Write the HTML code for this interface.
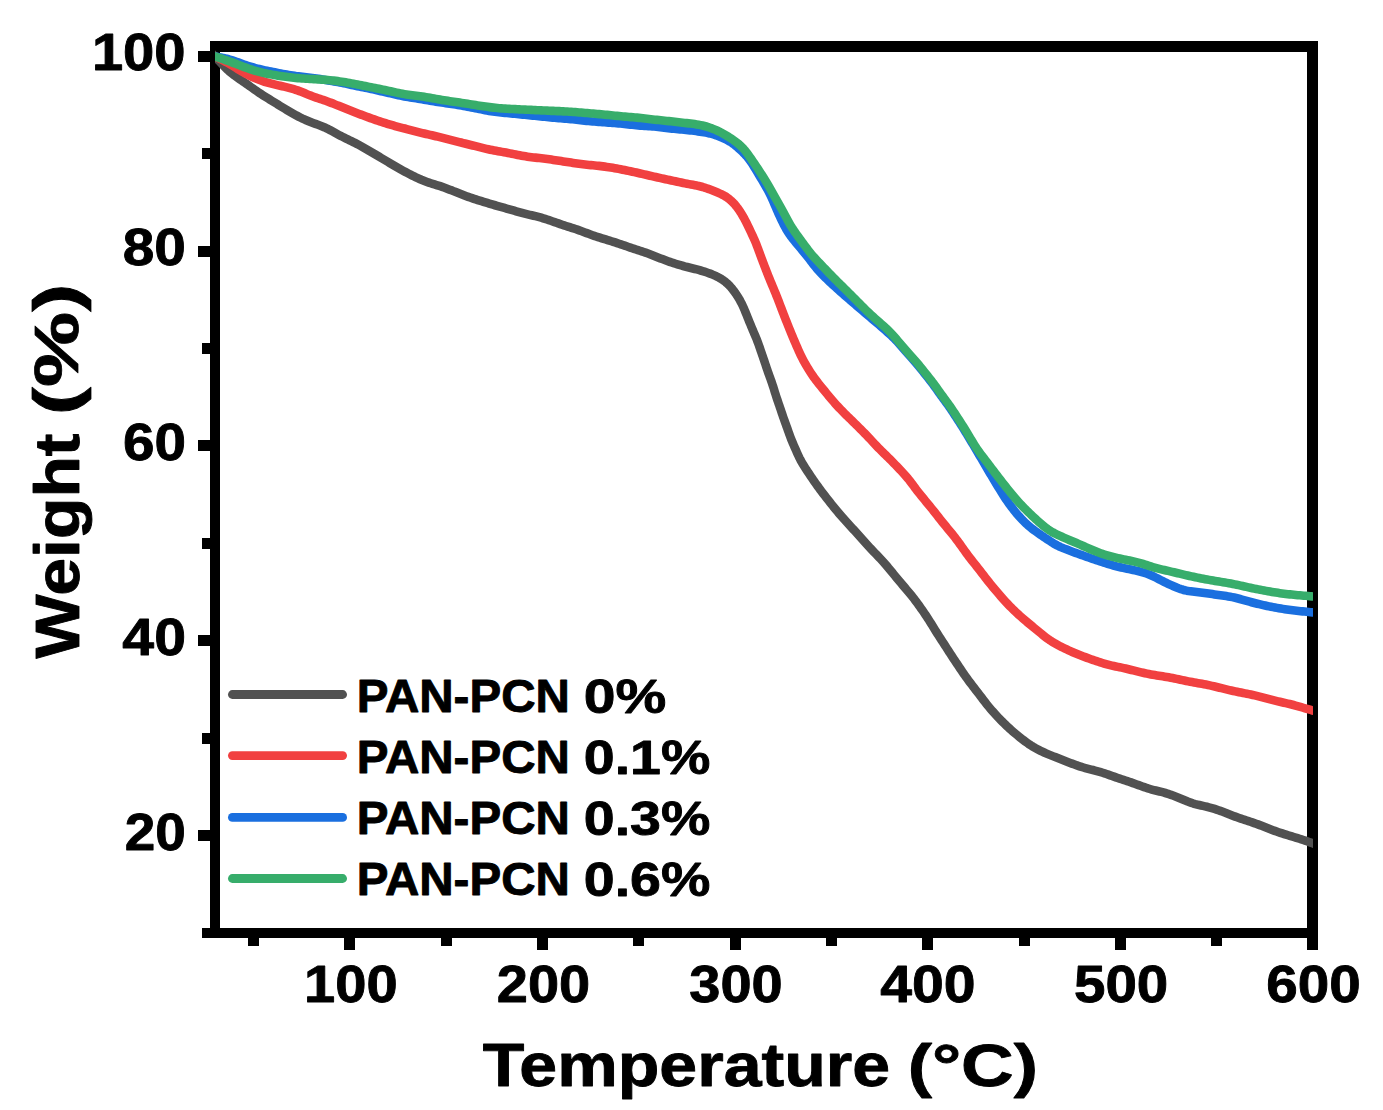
<!DOCTYPE html>
<html><head><meta charset="utf-8"><style>
html,body{margin:0;padding:0;background:#fff;}
svg{display:block;}
</style></head><body>
<svg width="1383" height="1110" viewBox="0 0 1383 1110">
<rect width="1383" height="1110" fill="#fff"/>
<rect x="210" y="41" width="10" height="897" fill="#000"/>
<rect x="210" y="41" width="1108" height="11" fill="#000"/>
<rect x="1307" y="41" width="11" height="909" fill="#000"/>
<rect x="202" y="928" width="1116" height="10" fill="#000"/>
<rect x="198" y="51" width="12" height="11" fill="#000"/>
<rect x="198" y="246" width="12" height="11" fill="#000"/>
<rect x="198" y="440" width="12" height="11" fill="#000"/>
<rect x="198" y="635" width="12" height="11" fill="#000"/>
<rect x="198" y="830" width="12" height="11" fill="#000"/>
<rect x="202" y="148" width="8" height="11" fill="#000"/>
<rect x="202" y="343" width="8" height="11" fill="#000"/>
<rect x="202" y="538" width="8" height="11" fill="#000"/>
<rect x="202" y="733" width="8" height="11" fill="#000"/>
<rect x="344" y="938" width="11" height="12" fill="#000"/>
<rect x="537" y="938" width="11" height="12" fill="#000"/>
<rect x="730" y="938" width="11" height="12" fill="#000"/>
<rect x="922" y="938" width="11" height="12" fill="#000"/>
<rect x="1115" y="938" width="11" height="12" fill="#000"/>
<rect x="248" y="938" width="11" height="8" fill="#000"/>
<rect x="441" y="938" width="11" height="8" fill="#000"/>
<rect x="633" y="938" width="11" height="8" fill="#000"/>
<rect x="826" y="938" width="11" height="8" fill="#000"/>
<rect x="1019" y="938" width="11" height="8" fill="#000"/>
<rect x="1211" y="938" width="11" height="8" fill="#000"/>
<text transform="matrix(0.56158 0 0 0.52299 91.897 70.043)" x="0" y="0" font-size="100" font-family="'Liberation Sans', sans-serif" font-weight="bold" fill="#000" stroke="#000" stroke-width="1.660" stroke-linejoin="round">100</text>
<text transform="matrix(0.56792 0 0 0.52306 122.765 265.046)" x="0" y="0" font-size="100" font-family="'Liberation Sans', sans-serif" font-weight="bold" fill="#000" stroke="#000" stroke-width="1.650" stroke-linejoin="round">80</text>
<text transform="matrix(0.56664 0 0 0.52305 122.901 460.045)" x="0" y="0" font-size="100" font-family="'Liberation Sans', sans-serif" font-weight="bold" fill="#000" stroke="#000" stroke-width="1.652" stroke-linejoin="round">60</text>
<text transform="matrix(0.57204 0 0 0.52728 122.324 654.541)" x="0" y="0" font-size="100" font-family="'Liberation Sans', sans-serif" font-weight="bold" fill="#000" stroke="#000" stroke-width="1.637" stroke-linejoin="round">40</text>
<text transform="matrix(0.54883 0 0 0.52285 124.814 850.038)" x="0" y="0" font-size="100" font-family="'Liberation Sans', sans-serif" font-weight="bold" fill="#000" stroke="#000" stroke-width="1.680" stroke-linejoin="round">20</text>
<text transform="matrix(0.56095 0 0 0.52298 304.100 1002.043)" x="0" y="0" font-size="100" font-family="'Liberation Sans', sans-serif" font-weight="bold" fill="#000" stroke="#000" stroke-width="1.661" stroke-linejoin="round">100</text>
<text transform="matrix(0.55981 0 0 0.52297 496.786 1002.043)" x="0" y="0" font-size="100" font-family="'Liberation Sans', sans-serif" font-weight="bold" fill="#000" stroke="#000" stroke-width="1.662" stroke-linejoin="round">200</text>
<text transform="matrix(0.55944 0 0 0.52297 689.346 1002.042)" x="0" y="0" font-size="100" font-family="'Liberation Sans', sans-serif" font-weight="bold" fill="#000" stroke="#000" stroke-width="1.663" stroke-linejoin="round">300</text>
<text transform="matrix(0.57180 0 0 0.52310 880.126 1002.047)" x="0" y="0" font-size="100" font-family="'Liberation Sans', sans-serif" font-weight="bold" fill="#000" stroke="#000" stroke-width="1.644" stroke-linejoin="round">400</text>
<text transform="matrix(0.56541 0 0 0.52303 1073.971 1002.045)" x="0" y="0" font-size="100" font-family="'Liberation Sans', sans-serif" font-weight="bold" fill="#000" stroke="#000" stroke-width="1.654" stroke-linejoin="round">500</text>
<text transform="matrix(0.56644 0 0 0.52304 1266.202 1002.045)" x="0" y="0" font-size="100" font-family="'Liberation Sans', sans-serif" font-weight="bold" fill="#000" stroke="#000" stroke-width="1.652" stroke-linejoin="round">600</text>
<text transform="matrix(0.68105 0 0 0.60173 482.797 1085.942)" x="0" y="0" font-size="100" font-family="'Liberation Sans', sans-serif" font-weight="bold" fill="#000" stroke="#000" stroke-width="1.403" stroke-linejoin="round">Temperature</text>
<text transform="matrix(0.72906 0 0 0.59776 907.649 1086.042)" x="0" y="0" font-size="100" font-family="'Liberation Sans', sans-serif" font-weight="bold" fill="#000" stroke="#000" stroke-width="1.357" stroke-linejoin="round">(°C)</text>
<text transform="matrix(0 -0.67900 0.63648 0 79.099 658.535)" x="0" y="0" font-size="100" font-family="'Liberation Sans', sans-serif" font-weight="bold" fill="#000" stroke="#000" stroke-width="1.368" stroke-linejoin="round">Weight</text>
<text transform="matrix(0 -0.84568 0.63012 0 78.383 415.213)" x="0" y="0" font-size="100" font-family="'Liberation Sans', sans-serif" font-weight="bold" fill="#000" stroke="#000" stroke-width="1.220" stroke-linejoin="round">(%)</text>
<defs><clipPath id="pc"><rect x="215" y="0" width="1098" height="1110"/></clipPath></defs>
<g clip-path="url(#pc)">
<path d="M209.49,50.70L210.86,52.15L212.24,53.61L213.60,55.07L214.97,56.53L216.33,57.99L217.69,59.46L219.05,60.93L220.41,62.40L221.77,63.86L223.15,65.31L224.54,66.74L225.95,68.16L227.38,69.54L228.85,70.90L230.34,72.21L231.88,73.48L233.44,74.72L235.04,75.91L236.66,77.08L238.30,78.22L239.95,79.35L241.60,80.47L243.25,81.60L244.89,82.74L246.53,83.89L248.16,85.05L249.78,86.21L251.41,87.38L253.04,88.54L254.67,89.69L256.31,90.84L257.96,91.97L259.61,93.09L261.28,94.19L262.96,95.27L264.65,96.35L266.34,97.41L268.04,98.47L269.74,99.52L271.45,100.56L273.15,101.61L274.85,102.66L276.56,103.71L278.26,104.76L279.96,105.80L281.67,106.85L283.38,107.89L285.09,108.92L286.81,109.95L288.53,110.97L290.25,111.98L291.98,112.98L293.72,113.96L295.47,114.94L297.23,115.89L299.00,116.82L300.78,117.72L302.57,118.60L304.38,119.44L306.21,120.26L308.04,121.04L309.89,121.80L311.75,122.52L313.62,123.22L315.50,123.90L317.38,124.57L319.25,125.24L321.12,125.94L322.96,126.68L324.79,127.47L326.59,128.32L328.37,129.21L330.13,130.14L331.88,131.10L333.63,132.07L335.37,133.05L337.12,134.01L338.88,134.95L340.65,135.87L342.44,136.77L344.23,137.65L346.03,138.53L347.83,139.40L349.63,140.27L351.42,141.15L353.21,142.04L354.99,142.95L356.77,143.86L358.54,144.80L360.30,145.75L362.05,146.71L363.79,147.69L365.53,148.68L367.26,149.68L368.98,150.69L370.71,151.71L372.43,152.73L374.15,153.75L375.87,154.77L377.59,155.79L379.31,156.81L381.03,157.83L382.75,158.85L384.47,159.87L386.19,160.89L387.91,161.91L389.63,162.93L391.35,163.94L393.08,164.96L394.80,165.97L396.53,166.98L398.26,167.97L400.00,168.97L401.74,169.95L403.49,170.92L405.24,171.88L407.00,172.83L408.77,173.76L410.55,174.68L412.33,175.58L414.13,176.47L415.93,177.33L417.74,178.17L419.57,178.98L421.40,179.78L423.25,180.54L425.10,181.27L426.97,181.98L428.85,182.65L430.74,183.28L432.64,183.88L434.55,184.46L436.46,185.03L438.37,185.60L440.27,186.20L442.16,186.83L444.04,187.49L445.92,188.18L447.78,188.90L449.64,189.63L451.50,190.37L453.35,191.12L455.21,191.86L457.07,192.61L458.92,193.34L460.79,194.07L462.65,194.79L464.52,195.50L466.40,196.20L468.28,196.88L470.16,197.54L472.05,198.19L473.95,198.82L475.85,199.44L477.76,200.04L479.67,200.64L481.58,201.23L483.49,201.82L485.40,202.40L487.32,202.98L489.23,203.56L491.15,204.13L493.07,204.69L494.99,205.25L496.91,205.81L498.83,206.36L500.76,206.90L502.68,207.44L504.61,207.98L506.53,208.52L508.46,209.06L510.38,209.60L512.31,210.15L514.23,210.71L516.15,211.27L518.07,211.82L519.99,212.37L521.91,212.91L523.84,213.42L525.78,213.91L527.72,214.37L529.66,214.82L531.61,215.26L533.56,215.71L535.50,216.17L537.43,216.66L539.36,217.19L541.28,217.74L543.19,218.32L545.10,218.91L547.00,219.53L548.90,220.16L550.79,220.80L552.68,221.45L554.57,222.10L556.46,222.76L558.35,223.42L560.24,224.07L562.13,224.72L564.03,225.35L565.93,225.97L567.83,226.58L569.74,227.19L571.64,227.80L573.54,228.41L575.44,229.03L577.34,229.68L579.22,230.34L581.10,231.02L582.98,231.71L584.85,232.42L586.72,233.13L588.59,233.83L590.46,234.52L592.35,235.19L594.24,235.84L596.13,236.47L598.03,237.09L599.94,237.68L601.85,238.27L603.76,238.86L605.68,239.44L607.59,240.03L609.50,240.63L611.41,241.23L613.31,241.84L615.21,242.45L617.11,243.08L619.01,243.71L620.90,244.35L622.80,245.00L624.69,245.65L626.58,246.31L628.46,246.96L630.35,247.61L632.25,248.26L634.14,248.89L636.04,249.51L637.95,250.12L639.85,250.74L641.75,251.36L643.64,251.99L645.53,252.65L647.41,253.32L649.28,254.02L651.15,254.73L653.01,255.46L654.87,256.19L656.74,256.92L658.60,257.65L660.46,258.38L662.33,259.10L664.20,259.81L666.07,260.51L667.95,261.19L669.83,261.87L671.72,262.52L673.62,263.15L675.52,263.76L677.43,264.35L679.34,264.92L681.27,265.48L683.19,266.01L685.12,266.53L687.06,267.03L689.00,267.52L690.94,268.01L692.88,268.48L694.82,268.96L696.76,269.45L698.69,269.96L700.61,270.50L702.53,271.06L704.44,271.65L706.33,272.28L708.22,272.94L710.09,273.63L711.95,274.36L713.79,275.13L715.61,275.94L717.40,276.80L719.16,277.73L720.88,278.72L722.55,279.78L724.16,280.92L725.72,282.14L727.21,283.44L728.65,284.81L730.02,286.24L731.33,287.73L732.59,289.26L733.81,290.84L734.99,292.45L736.12,294.09L737.22,295.76L738.28,297.45L739.30,299.16L740.27,300.90L741.20,302.67L742.08,304.46L742.93,306.26L743.75,308.09L744.54,309.92L745.31,311.77L746.06,313.62L746.81,315.47L747.56,317.32L748.31,319.18L749.05,321.04L749.80,322.89L750.56,324.74L751.32,326.59L752.09,328.44L752.86,330.28L753.65,332.12L754.44,333.96L755.22,335.80L755.99,337.64L756.74,339.49L757.46,341.35L758.17,343.22L758.85,345.10L759.51,346.99L760.16,348.88L760.80,350.77L761.45,352.66L762.10,354.55L762.75,356.44L763.40,358.33L764.04,360.22L764.68,362.12L765.31,364.01L765.94,365.91L766.58,367.81L767.22,369.70L767.87,371.59L768.54,373.47L769.22,375.35L769.91,377.23L770.59,379.11L771.26,380.99L771.91,382.88L772.55,384.77L773.16,386.67L773.76,388.58L774.35,390.49L774.94,392.40L775.54,394.31L776.15,396.21L776.77,398.11L777.41,400.00L778.06,401.90L778.71,403.79L779.36,405.68L780.00,407.57L780.64,409.46L781.28,411.36L781.92,413.25L782.56,415.15L783.21,417.04L783.87,418.92L784.54,420.80L785.23,422.68L785.91,424.56L786.59,426.44L787.27,428.32L787.94,430.21L788.61,432.09L789.28,433.97L789.96,435.85L790.66,437.72L791.38,439.58L792.13,441.43L792.90,443.27L793.70,445.11L794.50,446.94L795.30,448.77L796.11,450.60L796.91,452.42L797.72,454.25L798.56,456.06L799.42,457.85L800.33,459.63L801.28,461.38L802.27,463.10L803.30,464.81L804.36,466.51L805.43,468.19L806.52,469.87L807.62,471.54L808.72,473.21L809.83,474.87L810.95,476.53L812.07,478.19L813.20,479.84L814.34,481.48L815.49,483.11L816.65,484.74L817.82,486.37L819.00,487.98L820.18,489.59L821.38,491.20L822.58,492.79L823.79,494.39L825.01,495.97L826.24,497.55L827.47,499.13L828.70,500.70L829.94,502.27L831.18,503.84L832.43,505.40L833.68,506.96L834.94,508.52L836.20,510.06L837.48,511.60L838.78,513.13L840.08,514.64L841.40,516.14L842.73,517.63L844.07,519.12L845.41,520.60L846.76,522.08L848.10,523.56L849.44,525.05L850.78,526.53L852.12,528.02L853.46,529.50L854.80,530.99L856.14,532.47L857.47,533.96L858.81,535.45L860.15,536.94L861.48,538.43L862.82,539.91L864.16,541.40L865.50,542.89L866.84,544.37L868.19,545.85L869.54,547.32L870.90,548.78L872.28,550.23L873.66,551.68L875.04,553.12L876.43,554.56L877.81,556.01L879.19,557.45L880.56,558.91L881.92,560.38L883.27,561.86L884.59,563.35L885.91,564.86L887.20,566.38L888.49,567.91L889.76,569.45L891.03,571.00L892.30,572.55L893.56,574.10L894.82,575.65L896.09,577.19L897.36,578.74L898.64,580.27L899.92,581.81L901.21,583.34L902.51,584.86L903.80,586.39L905.10,587.91L906.39,589.43L907.69,590.96L908.97,592.49L910.25,594.03L911.51,595.58L912.75,597.14L913.98,598.72L915.19,600.31L916.39,601.91L917.58,603.52L918.75,605.14L919.92,606.77L921.07,608.40L922.22,610.04L923.35,611.68L924.48,613.33L925.60,614.99L926.70,616.66L927.79,618.33L928.88,620.02L929.95,621.70L931.01,623.40L932.06,625.10L933.11,626.80L934.16,628.50L935.21,630.20L936.27,631.90L937.34,633.59L938.41,635.28L939.49,636.96L940.58,638.64L941.67,640.32L942.76,641.99L943.85,643.67L944.93,645.35L946.02,647.03L947.10,648.71L948.19,650.39L949.27,652.07L950.36,653.75L951.45,655.43L952.55,657.10L953.65,658.77L954.75,660.43L955.86,662.10L956.98,663.76L958.09,665.42L959.20,667.08L960.32,668.74L961.43,670.40L962.56,672.06L963.69,673.70L964.83,675.34L965.99,676.97L967.16,678.60L968.34,680.21L969.53,681.81L970.74,683.41L971.95,685.00L973.16,686.59L974.38,688.17L975.61,689.76L976.83,691.34L978.05,692.93L979.26,694.51L980.48,696.10L981.69,697.70L982.90,699.29L984.11,700.87L985.34,702.45L986.57,704.03L987.82,705.59L989.09,707.14L990.37,708.67L991.66,710.19L992.98,711.70L994.31,713.19L995.65,714.67L997.01,716.14L998.38,717.59L999.77,719.03L1001.16,720.47L1002.57,721.89L1003.99,723.29L1005.42,724.69L1006.86,726.07L1008.32,727.44L1009.79,728.79L1011.28,730.13L1012.79,731.44L1014.31,732.74L1015.84,734.02L1017.38,735.29L1018.94,736.55L1020.50,737.80L1022.07,739.04L1023.65,740.26L1025.24,741.47L1026.84,742.65L1028.47,743.81L1030.13,744.92L1031.80,746.00L1033.51,747.03L1035.24,748.02L1036.99,748.97L1038.77,749.89L1040.55,750.78L1042.36,751.65L1044.17,752.48L1046.00,753.30L1047.83,754.09L1049.68,754.86L1051.53,755.62L1053.38,756.37L1055.24,757.11L1057.10,757.85L1058.96,758.58L1060.82,759.30L1062.69,760.03L1064.55,760.75L1066.42,761.47L1068.28,762.19L1070.15,762.91L1072.02,763.62L1073.89,764.32L1075.77,765.00L1077.65,765.67L1079.55,766.30L1081.45,766.91L1083.36,767.49L1085.28,768.03L1087.21,768.55L1089.15,769.06L1091.08,769.55L1093.02,770.04L1094.96,770.54L1096.89,771.06L1098.81,771.60L1100.72,772.17L1102.63,772.77L1104.53,773.39L1106.43,774.02L1108.32,774.68L1110.20,775.34L1112.09,776.00L1113.98,776.66L1115.87,777.32L1117.76,777.97L1119.65,778.61L1121.55,779.24L1123.45,779.88L1125.34,780.51L1127.24,781.14L1129.14,781.77L1131.03,782.42L1132.92,783.07L1134.80,783.74L1136.68,784.42L1138.56,785.11L1140.44,785.80L1142.32,786.48L1144.20,787.16L1146.09,787.80L1147.98,788.42L1149.89,789.00L1151.81,789.54L1153.74,790.05L1155.68,790.53L1157.62,791.00L1159.56,791.46L1161.50,791.95L1163.43,792.46L1165.35,793.00L1167.26,793.58L1169.16,794.20L1171.04,794.86L1172.92,795.54L1174.79,796.25L1176.65,796.98L1178.50,797.73L1180.35,798.49L1182.20,799.26L1184.04,800.03L1185.89,800.79L1187.74,801.54L1189.60,802.24L1191.48,802.91L1193.38,803.52L1195.29,804.08L1197.22,804.58L1199.15,805.05L1201.10,805.49L1203.05,805.92L1205.00,806.36L1206.94,806.81L1208.88,807.30L1210.81,807.82L1212.72,808.37L1214.63,808.96L1216.53,809.58L1218.43,810.22L1220.31,810.88L1222.19,811.57L1224.06,812.27L1225.93,812.99L1227.79,813.72L1229.65,814.45L1231.51,815.18L1233.38,815.90L1235.25,816.60L1237.12,817.29L1239.00,817.97L1240.89,818.62L1242.79,819.26L1244.68,819.89L1246.58,820.52L1248.48,821.15L1250.38,821.78L1252.28,822.41L1254.17,823.06L1256.05,823.73L1257.93,824.41L1259.80,825.11L1261.67,825.82L1263.53,826.55L1265.39,827.29L1267.25,828.03L1269.11,828.76L1270.98,829.48L1272.84,830.19L1274.72,830.88L1276.60,831.55L1278.49,832.20L1280.39,832.83L1282.29,833.45L1284.20,834.06L1286.11,834.65L1288.02,835.25L1289.93,835.83L1291.84,836.42L1293.75,837.00L1295.67,837.58L1297.58,838.17L1299.49,838.76L1301.39,839.37L1303.29,839.98L1305.19,840.62L1307.07,841.28L1308.94,841.96L1310.78,842.65L1312.61,843.35L1314.40,844.06L1316.16,844.76L1317.88,845.45L1319.58,846.13L1320.43,846.47" fill="none" stroke="#515151" stroke-width="8.6" stroke-linejoin="round" stroke-linecap="butt"/>
<path d="M207.84,52.92L209.64,53.81L211.43,54.70L213.22,55.59L215.01,56.47L216.81,57.36L218.60,58.24L220.39,59.13L222.18,60.03L223.96,60.93L225.73,61.86L227.49,62.81L229.23,63.78L230.96,64.79L232.67,65.81L234.37,66.86L236.06,67.93L237.75,68.99L239.45,70.05L241.15,71.10L242.87,72.12L244.60,73.11L246.35,74.06L248.12,74.99L249.91,75.88L251.71,76.74L253.53,77.56L255.37,78.35L257.21,79.11L259.08,79.83L260.95,80.52L262.84,81.17L264.74,81.79L266.65,82.37L268.57,82.92L270.49,83.45L272.43,83.95L274.37,84.43L276.31,84.89L278.26,85.34L280.21,85.79L282.16,86.23L284.11,86.68L286.06,87.14L288.00,87.62L289.93,88.12L291.86,88.64L293.78,89.20L295.68,89.79L297.58,90.41L299.45,91.08L301.31,91.79L303.16,92.54L304.99,93.31L306.83,94.09L308.66,94.86L310.51,95.60L312.37,96.31L314.25,96.98L316.14,97.61L318.03,98.23L319.93,98.85L321.83,99.47L323.73,100.11L325.61,100.77L327.49,101.45L329.36,102.16L331.22,102.88L333.08,103.62L334.94,104.37L336.79,105.12L338.64,105.86L340.50,106.61L342.36,107.35L344.22,108.09L346.08,108.83L347.94,109.56L349.80,110.29L351.66,111.02L353.53,111.74L355.39,112.47L357.26,113.19L359.12,113.90L360.99,114.62L362.86,115.32L364.73,116.03L366.61,116.72L368.49,117.41L370.37,118.08L372.25,118.75L374.14,119.41L376.03,120.06L377.93,120.71L379.82,121.34L381.72,121.97L383.63,122.58L385.53,123.18L387.44,123.78L389.35,124.36L391.27,124.93L393.19,125.48L395.12,126.02L397.05,126.54L398.98,127.05L400.92,127.55L402.85,128.05L404.79,128.54L406.72,129.05L408.66,129.56L410.59,130.07L412.52,130.59L414.45,131.10L416.39,131.61L418.32,132.11L420.26,132.59L422.21,133.06L424.15,133.52L426.10,133.97L428.05,134.41L430.00,134.86L431.95,135.30L433.90,135.75L435.85,136.21L437.79,136.67L439.74,137.14L441.68,137.62L443.62,138.10L445.56,138.59L447.50,139.08L449.44,139.57L451.37,140.07L453.31,140.56L455.25,141.06L457.19,141.56L459.12,142.05L461.06,142.54L463.00,143.04L464.94,143.52L466.88,144.01L468.82,144.50L470.76,144.98L472.70,145.46L474.64,145.95L476.58,146.43L478.52,146.92L480.46,147.40L482.40,147.88L484.35,148.36L486.29,148.82L488.24,149.26L490.19,149.68L492.15,150.08L494.11,150.45L496.08,150.81L498.05,151.16L500.01,151.51L501.98,151.86L503.95,152.23L505.91,152.60L507.87,152.98L509.84,153.37L511.80,153.76L513.76,154.15L515.72,154.53L517.68,154.92L519.65,155.30L521.61,155.66L523.58,156.01L525.55,156.34L527.53,156.64L529.51,156.93L531.49,157.18L533.47,157.42L535.46,157.64L537.45,157.85L539.43,158.06L541.42,158.28L543.41,158.51L545.39,158.76L547.37,159.03L549.35,159.31L551.33,159.60L553.31,159.90L555.28,160.20L557.26,160.50L559.24,160.81L561.21,161.11L563.19,161.42L565.17,161.72L567.15,162.02L569.12,162.32L571.10,162.62L573.08,162.92L575.06,163.21L577.04,163.50L579.01,163.78L581.00,164.05L582.98,164.30L584.96,164.54L586.95,164.75L588.94,164.95L590.93,165.14L592.92,165.32L594.91,165.50L596.90,165.69L598.89,165.89L600.87,166.12L602.86,166.36L604.84,166.61L606.82,166.89L608.80,167.18L610.77,167.49L612.75,167.82L614.72,168.16L616.68,168.52L618.65,168.89L620.61,169.27L622.57,169.66L624.53,170.05L626.49,170.45L628.45,170.86L630.41,171.28L632.36,171.70L634.32,172.12L636.27,172.55L638.22,172.99L640.17,173.44L642.12,173.89L644.07,174.34L646.01,174.79L647.96,175.25L649.91,175.70L651.86,176.16L653.81,176.60L655.76,177.05L657.71,177.48L659.66,177.92L661.61,178.35L663.57,178.78L665.52,179.21L667.48,179.63L669.43,180.05L671.39,180.47L673.34,180.89L675.30,181.31L677.25,181.73L679.21,182.15L681.16,182.57L683.12,182.98L685.08,183.38L687.04,183.77L689.00,184.14L690.97,184.49L692.93,184.85L694.89,185.21L696.85,185.59L698.80,186.02L700.73,186.49L702.65,187.01L704.56,187.59L706.45,188.22L708.33,188.89L710.20,189.59L712.06,190.31L713.92,191.05L715.77,191.80L717.61,192.55L719.44,193.34L721.25,194.16L723.02,195.04L724.74,195.99L726.42,197.03L728.03,198.16L729.58,199.38L731.07,200.68L732.50,202.05L733.88,203.48L735.20,204.96L736.46,206.50L737.67,208.08L738.83,209.70L739.94,211.35L741.01,213.03L742.05,214.73L743.06,216.46L744.04,218.20L744.99,219.95L745.92,221.72L746.82,223.51L747.70,225.30L748.56,227.10L749.42,228.91L750.27,230.72L751.12,232.53L751.97,234.34L752.82,236.15L753.65,237.96L754.47,239.78L755.26,241.62L756.01,243.46L756.75,245.32L757.46,247.19L758.15,249.06L758.84,250.94L759.53,252.82L760.22,254.69L760.91,256.57L761.61,258.44L762.32,260.32L763.02,262.19L763.74,264.05L764.45,265.92L765.17,267.79L765.89,269.66L766.61,271.52L767.34,273.38L768.07,275.24L768.81,277.10L769.56,278.95L770.32,280.80L771.09,282.65L771.86,284.49L772.64,286.34L773.41,288.18L774.18,290.03L774.94,291.88L775.69,293.73L776.43,295.59L777.17,297.44L777.90,299.31L778.62,301.17L779.34,303.04L780.05,304.91L780.76,306.78L781.47,308.65L782.18,310.51L782.90,312.38L783.63,314.24L784.35,316.11L785.08,317.97L785.81,319.83L786.55,321.69L787.28,323.55L788.02,325.41L788.76,327.27L789.51,329.12L790.26,330.98L791.02,332.83L791.78,334.68L792.55,336.52L793.33,338.36L794.11,340.20L794.90,342.04L795.69,343.88L796.48,345.71L797.28,347.55L798.08,349.38L798.89,351.20L799.72,353.02L800.58,354.82L801.46,356.62L802.36,358.40L803.29,360.17L804.24,361.93L805.21,363.68L806.20,365.41L807.22,367.13L808.25,368.84L809.31,370.54L810.39,372.22L811.49,373.88L812.62,375.54L813.76,377.17L814.93,378.79L816.12,380.40L817.34,381.98L818.57,383.55L819.82,385.11L821.08,386.66L822.35,388.21L823.62,389.76L824.88,391.31L826.15,392.86L827.41,394.40L828.69,395.95L829.97,397.48L831.26,399.01L832.56,400.53L833.87,402.03L835.20,403.53L836.53,405.02L837.88,406.49L839.24,407.96L840.62,409.41L842.01,410.85L843.41,412.27L844.82,413.69L846.24,415.10L847.67,416.49L849.10,417.89L850.54,419.28L851.97,420.68L853.40,422.08L854.83,423.48L856.25,424.88L857.67,426.29L859.09,427.70L860.51,429.11L861.92,430.53L863.32,431.95L864.72,433.38L866.11,434.82L867.50,436.26L868.87,437.71L870.24,439.17L871.61,440.63L872.97,442.10L874.33,443.56L875.69,445.02L877.06,446.48L878.45,447.92L879.85,449.34L881.26,450.76L882.69,452.16L884.12,453.56L885.55,454.95L886.98,456.35L888.41,457.75L889.83,459.16L891.24,460.57L892.64,462.00L894.04,463.43L895.43,464.87L896.81,466.31L898.19,467.76L899.57,469.21L900.94,470.66L902.30,472.12L903.66,473.60L904.99,475.08L906.31,476.59L907.60,478.11L908.86,479.66L910.10,481.22L911.31,482.81L912.50,484.41L913.69,486.01L914.87,487.62L916.06,489.22L917.27,490.80L918.50,492.37L919.75,493.93L921.01,495.48L922.27,497.03L923.54,498.58L924.80,500.13L926.07,501.67L927.33,503.22L928.60,504.77L929.87,506.31L931.14,507.86L932.40,509.41L933.65,510.96L934.90,512.53L936.14,514.10L937.37,515.68L938.59,517.25L939.83,518.83L941.06,520.40L942.31,521.96L943.57,523.52L944.83,525.07L946.10,526.61L947.38,528.15L948.65,529.69L949.93,531.23L951.20,532.78L952.46,534.33L953.71,535.89L954.94,537.46L956.16,539.04L957.37,540.64L958.56,542.25L959.73,543.87L960.90,545.49L962.05,547.12L963.21,548.75L964.37,550.38L965.53,552.01L966.71,553.62L967.90,555.23L969.10,556.83L970.32,558.41L971.56,559.98L972.80,561.55L974.04,563.12L975.29,564.68L976.53,566.25L977.77,567.82L979.00,569.40L980.22,570.98L981.44,572.56L982.66,574.15L983.88,575.73L985.11,577.31L986.34,578.89L987.58,580.46L988.82,582.02L990.08,583.58L991.34,585.13L992.61,586.67L993.88,588.21L995.17,589.75L996.46,591.28L997.75,592.80L999.05,594.32L1000.36,595.83L1001.68,597.34L1003.00,598.83L1004.34,600.32L1005.69,601.80L1007.05,603.26L1008.42,604.72L1009.81,606.16L1011.21,607.58L1012.63,608.99L1014.06,610.38L1015.50,611.77L1016.96,613.13L1018.43,614.49L1019.92,615.83L1021.41,617.16L1022.92,618.47L1024.43,619.78L1025.95,621.08L1027.48,622.36L1029.02,623.65L1030.56,624.92L1032.10,626.19L1033.65,627.46L1035.20,628.72L1036.75,629.99L1038.29,631.26L1039.84,632.52L1041.39,633.79L1042.94,635.05L1044.50,636.29L1046.08,637.52L1047.68,638.71L1049.30,639.86L1050.96,640.97L1052.64,642.04L1054.35,643.07L1056.08,644.06L1057.83,645.02L1059.60,645.95L1061.38,646.86L1063.17,647.76L1064.96,648.63L1066.77,649.49L1068.58,650.33L1070.41,651.15L1072.24,651.95L1074.07,652.74L1075.92,653.51L1077.77,654.27L1079.63,655.01L1081.49,655.74L1083.36,656.45L1085.23,657.15L1087.11,657.84L1088.99,658.52L1090.87,659.19L1092.76,659.86L1094.65,660.51L1096.54,661.16L1098.43,661.80L1100.33,662.42L1102.24,663.02L1104.15,663.59L1106.07,664.14L1108.00,664.65L1109.94,665.13L1111.89,665.59L1113.84,666.02L1115.79,666.43L1117.75,666.84L1119.71,667.25L1121.66,667.67L1123.62,668.10L1125.56,668.54L1127.51,669.00L1129.45,669.47L1131.40,669.95L1133.34,670.43L1135.28,670.91L1137.22,671.40L1139.16,671.87L1141.11,672.34L1143.05,672.80L1145.00,673.24L1146.96,673.66L1148.91,674.05L1150.88,674.43L1152.85,674.78L1154.82,675.11L1156.79,675.43L1158.77,675.74L1160.74,676.05L1162.72,676.35L1164.69,676.67L1166.66,677.00L1168.63,677.35L1170.60,677.71L1172.56,678.09L1174.52,678.49L1176.48,678.89L1178.43,679.31L1180.39,679.73L1182.34,680.15L1184.30,680.56L1186.26,680.97L1188.22,681.36L1190.18,681.74L1192.15,682.10L1194.12,682.46L1196.09,682.80L1198.06,683.14L1200.03,683.49L1202.00,683.84L1203.96,684.20L1205.93,684.57L1207.89,684.97L1209.84,685.38L1211.79,685.82L1213.74,686.27L1215.68,686.74L1217.62,687.22L1219.56,687.71L1221.50,688.20L1223.44,688.69L1225.38,689.16L1227.33,689.63L1229.27,690.09L1231.22,690.53L1233.18,690.96L1235.13,691.38L1237.09,691.79L1239.05,692.19L1241.01,692.58L1242.97,692.97L1244.93,693.36L1246.89,693.75L1248.86,694.14L1250.81,694.54L1252.77,694.96L1254.72,695.40L1256.67,695.85L1258.61,696.32L1260.55,696.81L1262.48,697.32L1264.41,697.84L1266.34,698.37L1268.27,698.90L1270.20,699.42L1272.13,699.93L1274.07,700.43L1276.01,700.90L1277.95,701.37L1279.90,701.81L1281.85,702.25L1283.80,702.69L1285.76,703.12L1287.71,703.57L1289.65,704.03L1291.59,704.51L1293.53,705.01L1295.46,705.53L1297.38,706.06L1299.30,706.62L1301.22,707.18L1303.14,707.75L1305.06,708.31L1306.97,708.87L1308.88,709.42L1310.77,709.97L1312.65,710.50L1314.50,711.01L1316.31,711.52L1318.09,712.01L1319.84,712.49L1320.71,712.74" fill="none" stroke="#F14040" stroke-width="8.6" stroke-linejoin="round" stroke-linecap="butt"/>
<path d="M207.14,55.04L209.10,55.39L211.07,55.75L213.04,56.11L215.01,56.46L216.98,56.81L218.94,57.16L220.91,57.53L222.87,57.92L224.82,58.33L226.76,58.79L228.69,59.28L230.61,59.83L232.51,60.42L234.41,61.05L236.29,61.72L238.17,62.40L240.04,63.08L241.92,63.77L243.81,64.44L245.69,65.09L247.59,65.73L249.49,66.34L251.40,66.93L253.32,67.49L255.24,68.03L257.18,68.54L259.11,69.03L261.06,69.49L263.01,69.93L264.96,70.35L266.92,70.76L268.88,71.15L270.84,71.54L272.80,71.93L274.76,72.32L276.73,72.71L278.69,73.10L280.65,73.49L282.61,73.87L284.58,74.23L286.55,74.59L288.52,74.93L290.49,75.26L292.46,75.57L294.44,75.86L296.42,76.14L298.40,76.39L300.39,76.63L302.38,76.85L304.36,77.06L306.35,77.26L308.34,77.46L310.33,77.67L312.31,77.90L314.29,78.16L316.27,78.45L318.24,78.76L320.20,79.10L322.17,79.44L324.14,79.79L326.11,80.13L328.08,80.45L330.05,80.77L332.03,81.08L334.00,81.40L335.97,81.73L337.94,82.07L339.91,82.44L341.87,82.83L343.82,83.23L345.78,83.65L347.73,84.08L349.68,84.52L351.64,84.94L353.59,85.36L355.55,85.77L357.51,86.18L359.47,86.57L361.43,86.96L363.39,87.36L365.35,87.75L367.31,88.16L369.27,88.57L371.22,88.99L373.17,89.42L375.13,89.86L377.08,90.30L379.03,90.74L380.98,91.19L382.93,91.64L384.87,92.08L386.82,92.53L388.77,92.97L390.72,93.42L392.67,93.87L394.62,94.32L396.57,94.76L398.52,95.20L400.48,95.62L402.43,96.03L404.39,96.41L406.36,96.78L408.33,97.12L410.30,97.44L412.27,97.75L414.25,98.05L416.23,98.36L418.20,98.67L420.18,98.99L422.15,99.31L424.12,99.65L426.09,99.99L428.06,100.34L430.03,100.68L432.00,101.02L433.97,101.34L435.95,101.66L437.92,101.97L439.90,102.27L441.88,102.56L443.86,102.85L445.84,103.14L447.82,103.43L449.80,103.71L451.77,104.01L453.75,104.30L455.73,104.61L457.70,104.92L459.68,105.24L461.65,105.57L463.62,105.92L465.59,106.28L467.55,106.65L469.51,107.03L471.48,107.42L473.44,107.81L475.40,108.21L477.36,108.61L479.32,109.01L481.28,109.41L483.24,109.80L485.20,110.18L487.16,110.55L489.13,110.90L491.10,111.22L493.08,111.52L495.06,111.79L497.04,112.04L499.03,112.27L501.01,112.48L503.00,112.69L504.99,112.88L506.98,113.08L508.97,113.27L510.97,113.46L512.96,113.65L514.95,113.84L516.94,114.04L518.93,114.23L520.92,114.42L522.91,114.62L524.90,114.81L526.89,115.01L528.88,115.21L530.87,115.41L532.86,115.61L534.85,115.82L536.84,116.02L538.83,116.23L540.82,116.43L542.81,116.63L544.80,116.83L546.79,117.03L548.78,117.23L550.77,117.42L552.76,117.61L554.75,117.79L556.74,117.97L558.74,118.13L560.73,118.30L562.72,118.46L564.72,118.62L566.71,118.78L568.70,118.95L570.69,119.13L572.68,119.33L574.67,119.54L576.66,119.76L578.65,119.98L580.63,120.21L582.62,120.44L584.61,120.66L586.59,120.87L588.58,121.07L590.57,121.24L592.57,121.41L594.56,121.57L596.55,121.72L598.55,121.87L600.54,122.02L602.54,122.17L604.53,122.32L606.53,122.47L608.52,122.62L610.51,122.77L612.51,122.91L614.50,123.07L616.50,123.22L618.49,123.39L620.48,123.56L622.47,123.75L624.46,123.95L626.45,124.17L628.44,124.39L630.42,124.62L632.41,124.85L634.40,125.06L636.38,125.27L638.37,125.45L640.37,125.61L642.36,125.75L644.36,125.87L646.35,125.99L648.35,126.12L650.34,126.25L652.33,126.41L654.32,126.58L656.31,126.77L658.30,126.99L660.29,127.22L662.27,127.45L664.26,127.69L666.24,127.93L668.23,128.16L670.22,128.39L672.20,128.61L674.19,128.82L676.18,129.02L678.17,129.21L680.16,129.40L682.15,129.59L684.15,129.77L686.14,129.96L688.13,130.15L690.11,130.36L692.10,130.59L694.08,130.83L696.07,131.09L698.05,131.37L700.02,131.66L702.00,131.96L703.97,132.28L705.94,132.63L707.89,133.01L709.83,133.45L711.76,133.94L713.67,134.49L715.56,135.11L717.44,135.78L719.30,136.50L721.14,137.26L722.97,138.05L724.78,138.88L726.57,139.75L728.32,140.68L730.04,141.67L731.71,142.74L733.33,143.87L734.91,145.07L736.45,146.33L737.96,147.63L739.44,148.96L740.91,150.31L742.35,151.69L743.76,153.10L745.14,154.53L746.47,156.01L747.74,157.53L748.97,159.10L750.14,160.71L751.27,162.35L752.36,164.02L753.42,165.71L754.47,167.41L755.51,169.12L756.54,170.83L757.58,172.54L758.61,174.25L759.64,175.97L760.67,177.68L761.69,179.40L762.71,181.12L763.72,182.85L764.72,184.58L765.72,186.31L766.70,188.05L767.66,189.80L768.60,191.57L769.51,193.34L770.40,195.13L771.26,196.93L772.09,198.75L772.90,200.58L773.69,202.41L774.48,204.25L775.27,206.09L776.05,207.93L776.85,209.76L777.65,211.59L778.46,213.42L779.29,215.24L780.12,217.06L780.97,218.87L781.83,220.67L782.71,222.47L783.61,224.26L784.53,226.03L785.48,227.78L786.46,229.52L787.49,231.23L788.56,232.91L789.67,234.57L790.83,236.19L792.02,237.79L793.25,239.36L794.50,240.92L795.77,242.46L797.04,244.00L798.32,245.54L799.61,247.07L800.89,248.60L802.18,250.14L803.45,251.68L804.72,253.22L805.98,254.78L807.22,256.34L808.46,257.91L809.68,259.49L810.90,261.08L812.12,262.66L813.35,264.24L814.59,265.81L815.84,267.36L817.12,268.90L818.42,270.41L819.76,271.89L821.12,273.36L822.50,274.80L823.91,276.22L825.33,277.62L826.76,279.01L828.21,280.39L829.66,281.77L831.12,283.14L832.59,284.50L834.06,285.85L835.53,287.20L837.01,288.55L838.50,289.89L839.99,291.22L841.48,292.55L842.98,293.87L844.49,295.19L845.99,296.50L847.51,297.81L849.02,299.12L850.54,300.42L852.05,301.73L853.57,303.03L855.09,304.33L856.61,305.63L858.13,306.93L859.65,308.23L861.17,309.53L862.69,310.83L864.22,312.12L865.74,313.42L867.26,314.72L868.78,316.02L870.30,317.32L871.82,318.61L873.35,319.91L874.87,321.21L876.39,322.50L877.92,323.80L879.44,325.10L880.96,326.40L882.47,327.70L883.98,329.01L885.48,330.33L886.98,331.66L888.46,333.00L889.94,334.35L891.39,335.72L892.83,337.11L894.25,338.51L895.65,339.94L897.02,341.39L898.37,342.86L899.70,344.35L901.02,345.85L902.33,347.36L903.64,348.88L904.95,350.39L906.27,351.89L907.59,353.39L908.92,354.88L910.25,356.37L911.59,357.87L912.91,359.36L914.23,360.87L915.53,362.38L916.82,363.91L918.10,365.45L919.37,366.99L920.62,368.55L921.87,370.11L923.12,371.67L924.37,373.24L925.61,374.80L926.86,376.37L928.10,377.93L929.34,379.50L930.56,381.08L931.78,382.67L932.98,384.27L934.16,385.88L935.33,387.50L936.49,389.13L937.65,390.76L938.81,392.39L939.97,394.02L941.14,395.64L942.32,397.25L943.50,398.87L944.69,400.48L945.87,402.09L947.04,403.71L948.20,405.34L949.35,406.97L950.49,408.62L951.61,410.27L952.72,411.94L953.82,413.61L954.91,415.28L956.00,416.95L957.09,418.63L958.18,420.31L959.27,421.99L960.34,423.68L961.42,425.36L962.48,427.06L963.54,428.75L964.59,430.46L965.63,432.16L966.66,433.87L967.70,435.59L968.73,437.30L969.76,439.01L970.79,440.73L971.82,442.44L972.85,444.16L973.87,445.87L974.90,447.59L975.92,449.31L976.94,451.03L977.96,452.75L978.97,454.48L979.99,456.20L981.00,457.93L982.01,459.65L983.02,461.38L984.03,463.10L985.04,464.83L986.05,466.56L987.06,468.28L988.07,470.01L989.08,471.73L990.09,473.46L991.11,475.18L992.13,476.90L993.15,478.62L994.18,480.34L995.21,482.05L996.24,483.76L997.28,485.47L998.33,487.18L999.37,488.88L1000.43,490.58L1001.48,492.28L1002.55,493.97L1003.62,495.66L1004.71,497.34L1005.81,499.00L1006.93,500.66L1008.07,502.30L1009.23,503.93L1010.40,505.55L1011.60,507.15L1012.82,508.73L1014.06,510.30L1015.31,511.86L1016.58,513.40L1017.88,514.92L1019.19,516.43L1020.53,517.91L1021.89,519.37L1023.28,520.81L1024.70,522.21L1026.14,523.59L1027.61,524.94L1029.12,526.25L1030.65,527.52L1032.21,528.77L1033.80,529.98L1035.40,531.17L1037.03,532.33L1038.67,533.47L1040.32,534.60L1041.98,535.72L1043.63,536.84L1045.29,537.95L1046.95,539.07L1048.61,540.18L1050.27,541.28L1051.94,542.36L1053.63,543.41L1055.35,544.41L1057.10,545.35L1058.88,546.24L1060.69,547.08L1062.51,547.87L1064.36,548.63L1066.22,549.37L1068.08,550.09L1069.95,550.79L1071.83,551.49L1073.70,552.18L1075.58,552.86L1077.47,553.54L1079.35,554.21L1081.23,554.88L1083.12,555.55L1085.01,556.21L1086.89,556.87L1088.78,557.53L1090.67,558.19L1092.56,558.84L1094.45,559.49L1096.35,560.14L1098.24,560.78L1100.14,561.41L1102.04,562.04L1103.94,562.66L1105.84,563.26L1107.75,563.85L1109.67,564.43L1111.59,564.99L1113.51,565.53L1115.44,566.05L1117.38,566.55L1119.32,567.03L1121.26,567.49L1123.21,567.93L1125.17,568.35L1127.12,568.75L1129.08,569.15L1131.04,569.55L1133.00,569.96L1134.95,570.38L1136.90,570.82L1138.84,571.29L1140.78,571.79L1142.70,572.33L1144.61,572.91L1146.49,573.54L1148.36,574.23L1150.21,574.97L1152.04,575.77L1153.85,576.61L1155.64,577.49L1157.42,578.39L1159.19,579.31L1160.97,580.23L1162.75,581.14L1164.53,582.03L1166.33,582.91L1168.13,583.78L1169.94,584.63L1171.75,585.47L1173.58,586.28L1175.41,587.07L1177.25,587.83L1179.11,588.53L1180.98,589.18L1182.87,589.74L1184.79,590.23L1186.73,590.64L1188.68,590.98L1190.65,591.26L1192.62,591.52L1194.61,591.76L1196.59,591.99L1198.57,592.23L1200.56,592.47L1202.54,592.73L1204.52,592.99L1206.51,593.26L1208.49,593.54L1210.47,593.82L1212.45,594.10L1214.43,594.39L1216.41,594.67L1218.39,594.95L1220.37,595.23L1222.35,595.52L1224.32,595.81L1226.30,596.11L1228.27,596.43L1230.24,596.77L1232.20,597.14L1234.16,597.55L1236.10,598.00L1238.04,598.48L1239.97,598.99L1241.90,599.53L1243.82,600.07L1245.74,600.62L1247.66,601.17L1249.59,601.70L1251.52,602.23L1253.45,602.74L1255.39,603.23L1257.33,603.72L1259.27,604.19L1261.22,604.65L1263.17,605.09L1265.12,605.53L1267.08,605.95L1269.03,606.36L1270.99,606.76L1272.95,607.14L1274.92,607.52L1276.89,607.88L1278.85,608.22L1280.83,608.56L1282.80,608.88L1284.78,609.19L1286.75,609.48L1288.73,609.76L1290.71,610.03L1292.70,610.28L1294.68,610.52L1296.67,610.75L1298.66,610.97L1300.65,611.18L1302.64,611.38L1304.62,611.58L1306.61,611.78L1308.59,611.97L1310.56,612.16L1312.51,612.35L1314.44,612.54L1316.33,612.72L1318.20,612.90L1320.04,613.08L1320.96,613.17" fill="none" stroke="#1A6FDF" stroke-width="8.6" stroke-linejoin="round" stroke-linecap="butt"/>
<path d="M207.42,53.94L209.32,54.58L211.21,55.22L213.11,55.85L215.00,56.49L216.90,57.13L218.80,57.76L220.69,58.40L222.58,59.05L224.47,59.70L226.36,60.36L228.24,61.03L230.12,61.72L232.00,62.41L233.87,63.12L235.74,63.83L237.60,64.55L239.47,65.27L241.34,65.98L243.21,66.68L245.08,67.38L246.96,68.06L248.85,68.73L250.74,69.37L252.64,70.00L254.54,70.60L256.46,71.17L258.38,71.70L260.32,72.20L262.26,72.67L264.21,73.11L266.16,73.52L268.12,73.91L270.09,74.28L272.05,74.64L274.02,74.99L275.99,75.33L277.97,75.65L279.94,75.97L281.92,76.27L283.90,76.56L285.88,76.83L287.86,77.09L289.85,77.33L291.83,77.55L293.82,77.76L295.81,77.95L297.80,78.13L299.80,78.29L301.79,78.44L303.78,78.58L305.78,78.71L307.78,78.82L309.77,78.93L311.77,79.04L313.77,79.14L315.77,79.24L317.76,79.35L319.76,79.46L321.75,79.59L323.75,79.72L325.74,79.88L327.74,80.04L329.73,80.23L331.72,80.43L333.70,80.64L335.69,80.88L337.67,81.13L339.65,81.40L341.63,81.69L343.61,82.00L345.58,82.33L347.55,82.66L349.52,83.01L351.49,83.37L353.45,83.74L355.41,84.12L357.38,84.50L359.34,84.89L361.30,85.28L363.26,85.67L365.22,86.07L367.18,86.46L369.14,86.86L371.10,87.25L373.07,87.65L375.03,88.04L376.99,88.44L378.95,88.83L380.91,89.23L382.87,89.64L384.82,90.05L386.78,90.46L388.74,90.87L390.69,91.30L392.64,91.72L394.60,92.15L396.55,92.58L398.50,93.00L400.46,93.41L402.42,93.79L404.38,94.14L406.35,94.46L408.33,94.74L410.31,95.00L412.29,95.24L414.28,95.47L416.26,95.71L418.25,95.96L420.23,96.23L422.20,96.52L424.18,96.82L426.15,97.14L428.13,97.48L430.10,97.82L432.07,98.17L434.03,98.51L436.00,98.86L437.97,99.21L439.94,99.55L441.92,99.89L443.89,100.22L445.86,100.54L447.84,100.85L449.81,101.16L451.79,101.45L453.77,101.74L455.75,102.02L457.73,102.31L459.71,102.60L461.69,102.89L463.66,103.19L465.64,103.49L467.61,103.81L469.59,104.13L471.56,104.45L473.54,104.77L475.51,105.08L477.49,105.39L479.46,105.70L481.44,106.00L483.42,106.30L485.40,106.58L487.38,106.86L489.36,107.13L491.34,107.38L493.33,107.62L495.31,107.85L497.30,108.05L499.29,108.23L501.29,108.38L503.28,108.52L505.28,108.64L507.27,108.75L509.27,108.86L511.27,108.95L513.27,109.05L515.26,109.14L517.26,109.24L519.26,109.33L521.26,109.43L523.25,109.53L525.25,109.62L527.25,109.72L529.25,109.82L531.24,109.91L533.24,110.01L535.24,110.11L537.24,110.20L539.24,110.30L541.23,110.39L543.23,110.48L545.23,110.57L547.23,110.66L549.23,110.74L551.22,110.83L553.22,110.91L555.22,110.99L557.22,111.08L559.22,111.16L561.21,111.25L563.21,111.35L565.21,111.45L567.21,111.55L569.20,111.67L571.20,111.79L573.19,111.93L575.19,112.08L577.18,112.24L579.17,112.41L581.17,112.58L583.16,112.75L585.15,112.92L587.14,113.09L589.14,113.25L591.13,113.42L593.12,113.58L595.12,113.75L597.11,113.93L599.10,114.10L601.09,114.29L603.08,114.48L605.07,114.67L607.06,114.87L609.05,115.07L611.04,115.27L613.03,115.48L615.02,115.68L617.01,115.89L619.00,116.08L620.99,116.28L622.98,116.46L624.98,116.64L626.97,116.80L628.96,116.97L630.95,117.13L632.95,117.29L634.94,117.47L636.93,117.65L638.92,117.85L640.91,118.06L642.90,118.28L644.88,118.51L646.87,118.75L648.85,118.98L650.84,119.21L652.83,119.44L654.81,119.66L656.80,119.87L658.79,120.07L660.78,120.27L662.77,120.48L664.76,120.68L666.75,120.90L668.74,121.12L670.72,121.34L672.71,121.58L674.70,121.81L676.68,122.05L678.67,122.28L680.65,122.50L682.64,122.71L684.63,122.93L686.62,123.14L688.61,123.35L690.59,123.57L692.58,123.82L694.56,124.08L696.53,124.38L698.50,124.72L700.46,125.10L702.41,125.52L704.34,125.99L706.27,126.52L708.18,127.09L710.07,127.72L711.94,128.40L713.79,129.13L715.63,129.91L717.44,130.74L719.24,131.61L721.02,132.52L722.77,133.47L724.51,134.45L726.23,135.46L727.94,136.51L729.62,137.58L731.29,138.67L732.95,139.79L734.58,140.94L736.18,142.12L737.75,143.35L739.27,144.62L740.74,145.95L742.16,147.34L743.51,148.79L744.81,150.29L746.06,151.84L747.27,153.42L748.45,155.03L749.62,156.65L750.76,158.29L751.90,159.94L753.03,161.59L754.16,163.24L755.27,164.90L756.39,166.56L757.50,168.22L758.60,169.89L759.71,171.56L760.80,173.23L761.89,174.91L762.97,176.59L764.04,178.28L765.10,179.98L766.14,181.68L767.17,183.40L768.18,185.12L769.18,186.85L770.17,188.59L771.15,190.33L772.13,192.07L773.11,193.82L774.09,195.56L775.08,197.30L776.07,199.04L777.06,200.78L778.04,202.52L779.02,204.26L779.99,206.01L780.96,207.76L781.92,209.51L782.87,211.27L783.81,213.04L784.75,214.80L785.69,216.56L786.64,218.33L787.59,220.08L788.56,221.83L789.54,223.57L790.55,225.30L791.59,227.00L792.65,228.69L793.75,230.36L794.87,232.02L796.01,233.66L797.18,235.28L798.36,236.90L799.54,238.51L800.73,240.11L801.92,241.72L803.11,243.33L804.30,244.94L805.49,246.54L806.68,248.15L807.89,249.74L809.11,251.32L810.36,252.88L811.62,254.43L812.92,255.95L814.24,257.45L815.58,258.93L816.94,260.39L818.31,261.85L819.69,263.30L821.07,264.74L822.45,266.19L823.84,267.63L825.22,269.07L826.60,270.52L827.99,271.96L829.37,273.40L830.76,274.84L832.16,276.27L833.56,277.70L834.97,279.12L836.38,280.54L837.80,281.95L839.22,283.36L840.64,284.76L842.06,286.16L843.49,287.57L844.91,288.97L846.33,290.38L847.75,291.79L849.17,293.20L850.58,294.62L852.00,296.03L853.41,297.45L854.81,298.87L856.22,300.29L857.63,301.71L859.04,303.13L860.44,304.55L861.86,305.97L863.27,307.38L864.70,308.79L866.12,310.19L867.56,311.58L869.00,312.96L870.46,314.33L871.92,315.69L873.40,317.04L874.89,318.38L876.38,319.71L877.88,321.03L879.39,322.34L880.89,323.66L882.39,324.98L883.89,326.31L885.36,327.66L886.82,329.02L888.26,330.41L889.67,331.82L891.06,333.26L892.42,334.72L893.77,336.20L895.09,337.69L896.41,339.20L897.71,340.71L899.02,342.23L900.31,343.75L901.61,345.27L902.91,346.79L904.22,348.30L905.53,349.81L906.85,351.32L908.17,352.82L909.50,354.31L910.84,355.80L912.17,357.29L913.50,358.78L914.82,360.28L916.13,361.79L917.43,363.32L918.71,364.85L919.98,366.39L921.24,367.95L922.49,369.51L923.74,371.07L924.98,372.63L926.23,374.20L927.48,375.76L928.72,377.33L929.96,378.90L931.19,380.47L932.41,382.06L933.61,383.65L934.80,385.26L935.98,386.87L937.15,388.50L938.30,390.13L939.46,391.76L940.62,393.39L941.79,395.01L942.96,396.63L944.14,398.24L945.33,399.85L946.51,401.46L947.69,403.08L948.86,404.70L950.01,406.34L951.15,407.98L952.27,409.63L953.39,411.29L954.49,412.96L955.59,414.63L956.68,416.31L957.77,417.98L958.86,419.66L959.95,421.34L961.03,423.02L962.10,424.71L963.17,426.40L964.23,428.10L965.28,429.80L966.32,431.50L967.36,433.22L968.39,434.93L969.41,436.65L970.43,438.37L971.46,440.08L972.49,441.80L973.53,443.50L974.59,445.20L975.67,446.87L976.78,448.54L977.91,450.18L979.07,451.81L980.25,453.42L981.44,455.03L982.65,456.62L983.87,458.21L985.08,459.80L986.30,461.38L987.51,462.97L988.73,464.56L989.93,466.16L991.14,467.75L992.35,469.34L993.56,470.94L994.77,472.53L995.98,474.12L997.20,475.71L998.42,477.29L999.64,478.88L1000.87,480.45L1002.10,482.03L1003.33,483.60L1004.57,485.18L1005.81,486.74L1007.05,488.31L1008.30,489.87L1009.55,491.43L1010.81,492.99L1012.08,494.53L1013.36,496.07L1014.65,497.59L1015.96,499.11L1017.28,500.61L1018.62,502.09L1019.97,503.56L1021.34,505.02L1022.72,506.46L1024.12,507.90L1025.53,509.32L1026.94,510.73L1028.37,512.13L1029.81,513.52L1031.25,514.90L1032.70,516.28L1034.16,517.65L1035.62,519.01L1037.10,520.36L1038.58,521.70L1040.08,523.02L1041.59,524.33L1043.12,525.61L1044.68,526.86L1046.26,528.08L1047.87,529.24L1049.52,530.36L1051.20,531.41L1052.92,532.41L1054.67,533.35L1056.45,534.24L1058.25,535.11L1060.06,535.94L1061.89,536.76L1063.71,537.57L1065.55,538.37L1067.38,539.17L1069.22,539.95L1071.06,540.74L1072.90,541.52L1074.74,542.30L1076.58,543.08L1078.42,543.87L1080.25,544.67L1082.08,545.48L1083.91,546.29L1085.74,547.10L1087.56,547.91L1089.39,548.72L1091.23,549.52L1093.06,550.30L1094.91,551.07L1096.77,551.81L1098.63,552.52L1100.51,553.20L1102.40,553.85L1104.30,554.47L1106.21,555.06L1108.13,555.62L1110.05,556.16L1111.98,556.67L1113.92,557.17L1115.86,557.65L1117.81,558.10L1119.76,558.55L1121.71,558.97L1123.67,559.38L1125.63,559.77L1127.59,560.16L1129.55,560.55L1131.51,560.95L1133.46,561.38L1135.40,561.83L1137.34,562.32L1139.26,562.84L1141.18,563.40L1143.09,563.98L1145.00,564.59L1146.90,565.21L1148.80,565.82L1150.70,566.43L1152.61,567.01L1154.53,567.58L1156.45,568.12L1158.39,568.63L1160.32,569.12L1162.27,569.58L1164.21,570.04L1166.16,570.49L1168.11,570.93L1170.06,571.38L1172.01,571.83L1173.96,572.29L1175.90,572.75L1177.85,573.22L1179.79,573.69L1181.73,574.16L1183.68,574.62L1185.63,575.08L1187.57,575.53L1189.53,575.97L1191.48,576.40L1193.43,576.82L1195.39,577.23L1197.35,577.64L1199.31,578.03L1201.27,578.42L1203.24,578.79L1205.20,579.16L1207.17,579.52L1209.14,579.87L1211.11,580.22L1213.08,580.55L1215.05,580.89L1217.02,581.21L1219.00,581.54L1220.97,581.87L1222.94,582.20L1224.91,582.53L1226.88,582.87L1228.85,583.22L1230.82,583.58L1232.78,583.96L1234.75,584.35L1236.70,584.75L1238.66,585.17L1240.61,585.60L1242.56,586.04L1244.51,586.47L1246.47,586.91L1248.42,587.34L1250.37,587.77L1252.33,588.18L1254.29,588.59L1256.25,588.99L1258.21,589.38L1260.17,589.76L1262.13,590.14L1264.10,590.51L1266.07,590.87L1268.03,591.22L1270.00,591.57L1271.98,591.91L1273.95,592.23L1275.92,592.55L1277.90,592.85L1279.88,593.14L1281.86,593.41L1283.84,593.67L1285.83,593.92L1287.81,594.16L1289.80,594.38L1291.79,594.59L1293.78,594.79L1295.77,594.98L1297.76,595.16L1299.75,595.33L1301.74,595.50L1303.74,595.67L1305.73,595.84L1307.71,596.02L1309.68,596.20L1311.64,596.38L1313.57,596.56L1315.47,596.74L1317.33,596.92L1319.15,597.10L1320.96,597.27" fill="none" stroke="#37AD6B" stroke-width="8.6" stroke-linejoin="round" stroke-linecap="butt"/>
</g>
<line x1="232.4" y1="694.5" x2="342.6" y2="694.5" stroke="#515151" stroke-width="8.8" stroke-linecap="round"/>
<text transform="matrix(0.47579 0 0 0.46633 356.724 712.088)" x="0" y="0" font-size="100" font-family="'Liberation Sans', sans-serif" font-weight="bold" fill="#000" stroke="#000" stroke-width="1.911" stroke-linejoin="round">PAN-PCN</text>
<text transform="matrix(0.57118 0 0 0.48137 583.704 713.107)" x="0" y="0" font-size="100" font-family="'Liberation Sans', sans-serif" font-weight="bold" fill="#000" stroke="#000" stroke-width="1.710" stroke-linejoin="round">0%</text>
<line x1="232.4" y1="755.6" x2="342.6" y2="755.6" stroke="#F14040" stroke-width="8.8" stroke-linecap="round"/>
<text transform="matrix(0.47579 0 0 0.46633 356.724 773.288)" x="0" y="0" font-size="100" font-family="'Liberation Sans', sans-serif" font-weight="bold" fill="#000" stroke="#000" stroke-width="1.911" stroke-linejoin="round">PAN-PCN</text>
<text transform="matrix(0.55537 0 0 0.48119 583.761 774.301)" x="0" y="0" font-size="100" font-family="'Liberation Sans', sans-serif" font-weight="bold" fill="#000" stroke="#000" stroke-width="1.737" stroke-linejoin="round">0.1%</text>
<line x1="232.4" y1="817.4" x2="342.6" y2="817.4" stroke="#1A6FDF" stroke-width="8.8" stroke-linecap="round"/>
<text transform="matrix(0.47579 0 0 0.46633 356.724 834.088)" x="0" y="0" font-size="100" font-family="'Liberation Sans', sans-serif" font-weight="bold" fill="#000" stroke="#000" stroke-width="1.911" stroke-linejoin="round">PAN-PCN</text>
<text transform="matrix(0.55537 0 0 0.48119 583.761 835.101)" x="0" y="0" font-size="100" font-family="'Liberation Sans', sans-serif" font-weight="bold" fill="#000" stroke="#000" stroke-width="1.737" stroke-linejoin="round">0.3%</text>
<line x1="232.4" y1="878.5" x2="342.6" y2="878.5" stroke="#37AD6B" stroke-width="8.8" stroke-linecap="round"/>
<text transform="matrix(0.47579 0 0 0.46633 356.724 895.288)" x="0" y="0" font-size="100" font-family="'Liberation Sans', sans-serif" font-weight="bold" fill="#000" stroke="#000" stroke-width="1.911" stroke-linejoin="round">PAN-PCN</text>
<text transform="matrix(0.55537 0 0 0.48119 583.761 896.301)" x="0" y="0" font-size="100" font-family="'Liberation Sans', sans-serif" font-weight="bold" fill="#000" stroke="#000" stroke-width="1.737" stroke-linejoin="round">0.6%</text>
</svg>
</body></html>
